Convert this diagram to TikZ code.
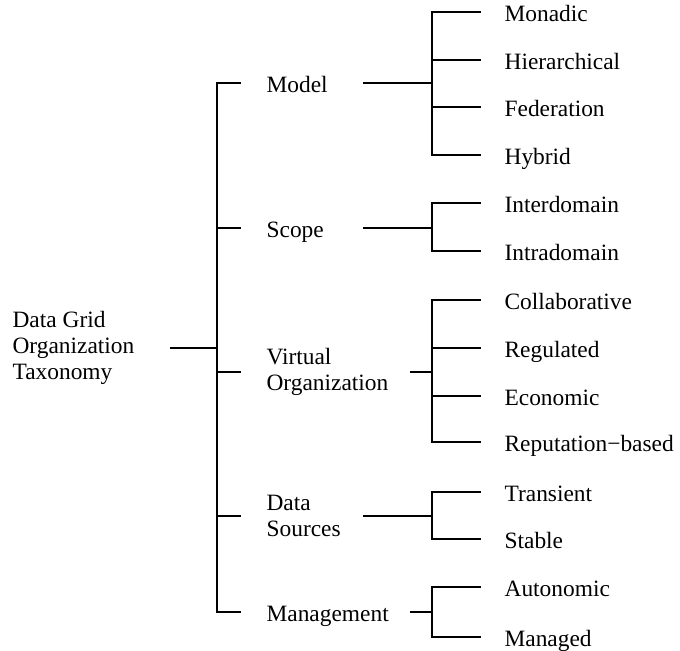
\documentclass[tikz,border=0pt]{standalone}
\usepackage{fontspec}
\setmainfont{Liberation Serif}

\begin{document}
\begin{tikzpicture}[x=0.5pt,y=-0.5pt,line width=0.6pt,
    lbl/.style={anchor=west,inner sep=0pt,font=\fontsize{11.7}{13}\selectfont},
    oneline/.style={text height=11.5pt,text depth=2.5pt},
    leaf/.style={lbl,oneline},
    branch/.style={lbl,align=left,text width=48pt},
    wide/.style={text width=71.5pt}]
    \useasboundingbox (0,0) rectangle (680,650);
    % root and the main spine
    \node[lbl,align=left] (root) at (12,348) {Data Grid\\Organization\\Taxonomy};
    \coordinate (rj) at (217,348);
    \node[branch,oneline] (model) at (266,83) {Model};
    \node[branch,oneline] (scope) at (266,228) {Scope};
    \node[branch,wide] (vo) at (266,372) {Virtual\\Organization};
    \node[branch] (dsrc) at (266,516) {Data\\Sources};
    \node[branch,wide,oneline] (mgmt) at (266,612) {Management};
    \draw[shorten <=17.5pt] (root.east) -- (rj);
    \draw[shorten <=12.5pt,shorten >=12.5pt] (model.west) -| (rj) |- (mgmt.west);
    \draw[shorten >=12.5pt] (rj |- scope.west) -- (scope.west);
    \draw[shorten >=12.5pt] (rj |- vo.west) -- (vo.west);
    \draw[shorten >=12.5pt] (rj |- dsrc.west) -- (dsrc.west);
    % Model
    \coordinate (mj) at (432,83);
    \node[leaf] (monadic) at (504,12) {Monadic};
    \node[leaf] (hier) at (504,60) {Hierarchical};
    \node[leaf] (fed) at (504,107) {Federation};
    \node[leaf] (hybrid) at (504,155) {Hybrid};
    \draw (model.east) -- (mj);
    \draw[shorten <=11.5pt,shorten >=11.5pt] (monadic.west) -| (mj) |- (hybrid.west);
    \draw[shorten >=11.5pt] (mj |- hier.west) -- (hier.west);
    \draw[shorten >=11.5pt] (mj |- fed.west) -- (fed.west);
    % Scope
    \coordinate (sj) at (432,228);
    \node[leaf] (inter) at (504,203) {Interdomain};
    \node[leaf] (intra) at (504,251) {Intradomain};
    \draw (scope.east) -- (sj);
    \draw[shorten <=11.5pt,shorten >=11.5pt] (inter.west) -| (sj) |- (intra.west);
    % Virtual Organization
    \coordinate (vj) at (432,372);
    \node[leaf] (collab) at (504,300) {Collaborative};
    \node[leaf] (regul) at (504,348) {Regulated};
    \node[leaf] (econ) at (504,396) {Economic};
    \node[leaf] (reput) at (504,442) {Reputation−based};
    \draw (vo.east) -- (vj);
    \draw[shorten <=11.5pt,shorten >=11.5pt] (collab.west) -| (vj) |- (reput.west);
    \draw[shorten >=11.5pt] (vj |- regul.west) -- (regul.west);
    \draw[shorten >=11.5pt] (vj |- econ.west) -- (econ.west);
    % Data Sources
    \coordinate (dj) at (432,516);
    \node[leaf] (trans) at (504,492) {Transient};
    \node[leaf] (stable) at (504,539) {Stable};
    \draw (dsrc.east) -- (dj);
    \draw[shorten <=11.5pt,shorten >=11.5pt] (trans.west) -| (dj) |- (stable.west);
    % Management
    \coordinate (gj) at (432,612);
    \node[leaf] (auto) at (504,587) {Autonomic};
    \node[leaf] (managed) at (504,637) {Managed};
    \draw (mgmt.east) -- (gj);
    \draw[shorten <=11.5pt,shorten >=11.5pt] (auto.west) -| (gj) |- (managed.west);
\end{tikzpicture}
\end{document}
